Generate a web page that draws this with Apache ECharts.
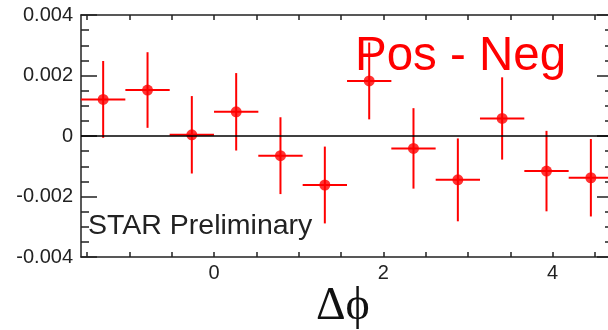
<!DOCTYPE html>
<html>
<head>
<meta charset="utf-8">
<script src="https://cdn.jsdelivr.net/npm/echarts@6/dist/echarts.min.js"></script>
<style>
html,body{margin:0;padding:0;background:#fff;}
#chart{width:608px;height:330px;}
</style>
</head>
<body>
<div id="chart"></div>
<script>
// Bin centers in Δφ (12 bins from -π/2 to 3π/2)
var binCenters = [-1.309, -0.785, -0.262, 0.262, 0.785, 1.309, 1.833, 2.356, 2.880, 3.403, 3.927, 4.451];
var binHalfWidth = 0.2618;
var values = [0.00121, 0.00152, 0.00004, 0.00080, -0.00065, -0.00162, 0.00182, -0.00041, -0.00145, 0.00058, -0.00116, -0.00138];
var errors = [0.00127, 0.00125, 0.00128, 0.00128, 0.00127, 0.00127, 0.00127, 0.00133, 0.00137, 0.00136, 0.00133, 0.00128];
var xTickLabels = [0, 2, 4];
var xMinorTicks = [-1.5, -1, -0.5, 0, 0.5, 1, 1.5, 2, 2.5, 3, 3.5, 4, 4.5];
var yTickLabels = ['-0.004', '-0.002', '0', '0.002', '0.004'];

var chart = echarts.init(document.getElementById('chart'), null, {renderer: 'canvas'});
var pts = binCenters.map(function (x, i) { return [x, values[i], errors[i]]; });

var axisCol = '#222';
var labelFont = {fontFamily: 'Liberation Sans', fontSize: 20, color: '#222'};

var option = {
  animation: false,
  backgroundColor: '#fff',
  grid: {left: 81, right: -5, top: 15, bottom: 73, containLabel: false, outerBoundsMode: 'none'},
  xAxis: [{
    type: 'value', min: -Math.PI / 2, max: 3 * Math.PI / 2, position: 'bottom',
    axisLine: {show: true, onZero: false, lineStyle: {color: axisCol, width: 1.5}},
    axisTick: {show: true, inside: true, length: 5, customValues: xMinorTicks, lineStyle: {color: axisCol, width: 1.5}},
    axisLabel: Object.assign({show: true, margin: 6, customValues: xTickLabels,
      formatter: function (v) { return String(v); }}, labelFont),
    splitLine: {show: false}
  }, {
    type: 'value', min: -Math.PI / 2, max: 3 * Math.PI / 2, position: 'top',
    axisLine: {show: true, onZero: false, lineStyle: {color: axisCol, width: 1.5}},
    axisTick: {show: true, inside: true, length: 5, customValues: xMinorTicks, lineStyle: {color: axisCol, width: 1.5}},
    axisLabel: {show: false},
    splitLine: {show: false}
  }],
  yAxis: [{
    type: 'value', min: -0.004, max: 0.004, interval: 0.002, position: 'left',
    axisLine: {show: true, onZero: false, lineStyle: {color: axisCol, width: 1.5}},
    axisTick: {show: true, inside: true, length: 16, lineStyle: {color: axisCol, width: 1.5}},
    minorTick: {show: true, splitNumber: 4, length: 8, lineStyle: {color: axisCol, width: 1.5}},
    axisLabel: Object.assign({show: true, margin: 8,
      formatter: function (v) {
        var idx = Math.round((v + 0.004) / 0.002);
        return yTickLabels[idx];
      }}, labelFont),
    splitLine: {show: false}
  }, {
    type: 'value', min: -0.004, max: 0.004, interval: 0.002, position: 'right',
    axisLine: {show: true, onZero: false, lineStyle: {color: axisCol, width: 1.5}},
    axisTick: {show: true, inside: true, length: 16, lineStyle: {color: axisCol, width: 1.5}},
    minorTick: {show: true, splitNumber: 4, length: 8, lineStyle: {color: axisCol, width: 1.5}},
    axisLabel: {show: false},
    splitLine: {show: false}
  }],
  graphic: [{
    type: 'text', left: 355, top: 33,
    style: {text: 'Pos - Neg', font: '47.5px "Liberation Sans"', fill: '#ff0000'}
  }, {
    type: 'text', left: 88, top: 212,
    style: {text: 'STAR Preliminary', font: '28.5px "Liberation Sans"', fill: '#222'}
  }, {
    type: 'text', left: 316, top: 284,
    style: {text: 'Δϕ', font: '46px "Liberation Serif"', fill: '#111'}
  }],
  series: [{
    type: 'custom',
    xAxisIndex: 0, yAxisIndex: 0,
    data: pts,
    renderItem: function (params, api) {
      var x = api.value(0), y = api.value(1), e = api.value(2);
      var pL = api.coord([x - binHalfWidth, y]);
      var pR = api.coord([x + binHalfWidth, y]);
      var pT = api.coord([x, y + e]);
      var pB = api.coord([x, y - e]);
      var st = {stroke: '#ff0000', lineWidth: 2};
      return {type: 'group', children: [
        {type: 'line', shape: {x1: pL[0], y1: pL[1], x2: pR[0], y2: pR[1]}, style: st},
        {type: 'line', shape: {x1: pT[0], y1: pT[1], x2: pB[0], y2: pB[1]}, style: st}
      ]};
    },
    z: 2
  }, {
    type: 'scatter',
    xAxisIndex: 0, yAxisIndex: 0,
    data: pts,
    symbol: 'circle', symbolSize: 11,
    itemStyle: {color: '#ff0000'},
    markLine: {
      silent: true, symbol: ['none', 'none'], label: {show: false},
      lineStyle: {color: '#000', width: 1.5, type: 'solid'},
      data: [{yAxis: 0}]
    },
    z: 3
  }]
};
chart.setOption(option);
</script>
</body>
</html>
